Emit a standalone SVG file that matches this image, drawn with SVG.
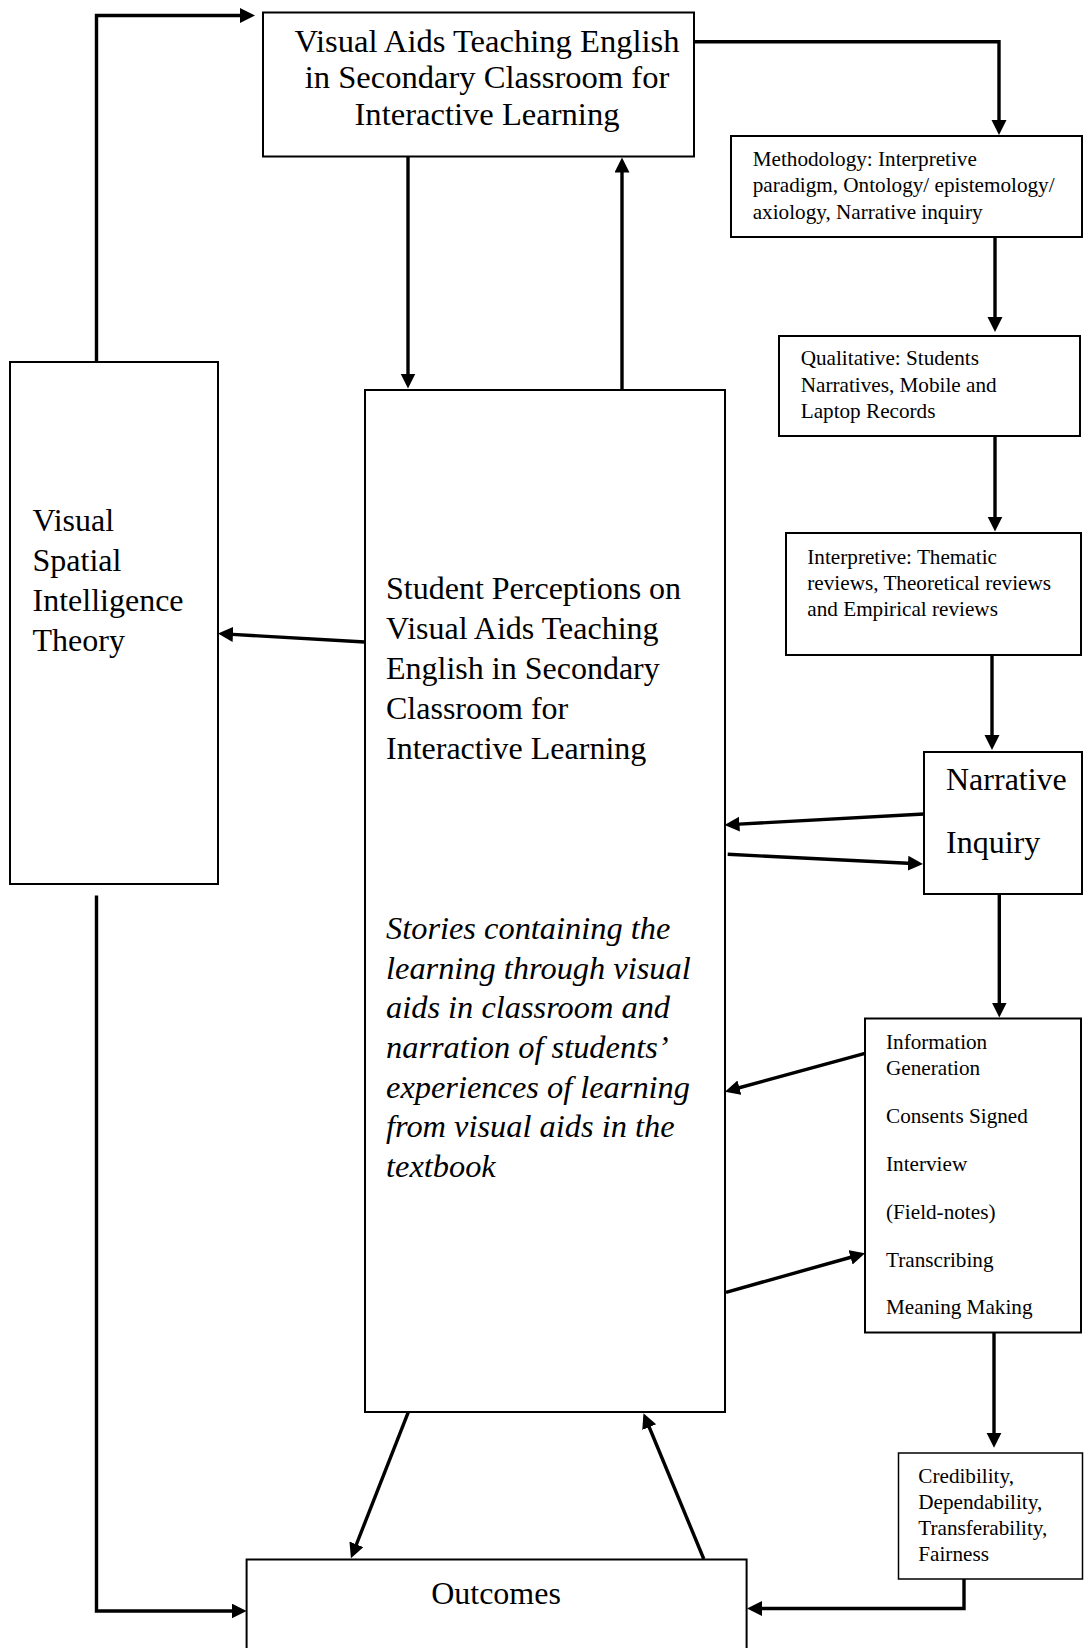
<svg xmlns="http://www.w3.org/2000/svg" width="1084" height="1648" viewBox="0 0 1084 1648">
<defs>
<marker id="ah" markerUnits="userSpaceOnUse" markerWidth="16" markerHeight="16" refX="5" refY="7.5" orient="auto">
<path d="M0,0 L15,7.5 L0,15 Z" fill="#000"/>
</marker>
<style>
.box{fill:#fff;stroke:#000;stroke-width:2}
.thin{fill:#fff;stroke:#000;stroke-width:1.5}
.c{fill:none;stroke:#000;stroke-width:3.4;marker-end:url(#ah)}
.big{font-family:"Liberation Serif","Times New Roman",serif;font-size:32px;fill:#000}
.ttl{font-size:32.6px}
.sm{font-family:"Liberation Serif","Times New Roman",serif;font-size:21.2px;fill:#000}
.it{font-style:italic;font-size:32.4px}
</style>
</defs>
<rect width="1084" height="1648" fill="#fff"/>

<g id="connectors">
<path class="c" d="M96.5,362 V15.5 H245"/>
<path class="c" d="M694,41.7 H999 V125"/>
<path class="c" d="M408,157 V378.5"/>
<path class="c" d="M622,390 V167.5"/>
<path class="c" d="M995,237 V322"/>
<path class="c" d="M995,436 V521.5"/>
<path class="c" d="M992,655 V740"/>
<path class="c" d="M924,814 L734.5,824.4"/>
<path class="c" d="M727.7,854.3 L913,863.5"/>
<path class="c" d="M999.3,894 V1007.5"/>
<path class="c" d="M865,1053.3 L734.6,1089"/>
<path class="c" d="M726,1292.3 L855.4,1256"/>
<path class="c" d="M994,1333 V1437.7"/>
<path class="c" d="M964,1579 V1608.5 H757"/>
<path class="c" d="M408.2,1412.3 L354.6,1549"/>
<path class="c" d="M703.8,1559 L647.3,1422.5"/>
<path class="c" d="M364.8,642 L228,634.1"/>
<path class="c" d="M96.5,895.5 V1611 H236.6"/>
</g>

<g id="node-top">
<rect class="box" x="263" y="12.5" width="431" height="144"/>
<text class="big ttl" text-anchor="middle" x="487" y="51.7">Visual Aids Teaching English</text>
<text class="big ttl" text-anchor="middle" x="487" y="88.3">in Secondary Classroom for</text>
<text class="big ttl" text-anchor="middle" x="487" y="125">Interactive Learning</text>
</g>

<g id="node-methodology">
<rect class="box" x="731" y="136" width="351" height="101"/>
<text class="sm" x="752.7" y="165.7">Methodology: Interpretive</text>
<text class="sm" x="752.7" y="192.3">paradigm, Ontology/ epistemology/</text>
<text class="sm" x="752.7" y="218.6">axiology, Narrative inquiry</text>
</g>

<g id="node-qualitative">
<rect class="box" x="779" y="336" width="301" height="100"/>
<text class="sm" x="800.7" y="365">Qualitative: Students</text>
<text class="sm" x="800.7" y="391.5">Narratives, Mobile and</text>
<text class="sm" x="800.7" y="418">Laptop Records</text>
</g>

<g id="node-interpretive">
<rect class="box" x="786" y="533" width="295" height="122"/>
<text class="sm" x="807.3" y="564">Interpretive: Thematic</text>
<text class="sm" x="807.3" y="590">reviews, Theoretical reviews</text>
<text class="sm" x="807.3" y="616">and Empirical reviews</text>
</g>

<g id="node-narrative">
<rect class="box" x="924" y="752" width="158" height="142"/>
<text class="big" x="946" y="790">Narrative</text>
<text class="big" x="946" y="852.7">Inquiry</text>
</g>

<g id="node-info">
<rect class="box" x="865" y="1018.5" width="216" height="314"/>
<text class="sm" x="886" y="1049.3">Information</text>
<text class="sm" x="886" y="1075">Generation</text>
<text class="sm" x="886" y="1123.3">Consents Signed</text>
<text class="sm" x="886" y="1171">Interview</text>
<text class="sm" x="886" y="1219.3">(Field-notes)</text>
<text class="sm" x="886" y="1266.7">Transcribing</text>
<text class="sm" x="886" y="1314">Meaning Making</text>
</g>

<g id="node-credibility">
<rect class="thin" x="898.5" y="1453" width="184" height="126"/>
<text class="sm" x="918.3" y="1482.7">Credibility,</text>
<text class="sm" x="918.3" y="1509.3">Dependability,</text>
<text class="sm" x="918.3" y="1535">Transferability,</text>
<text class="sm" x="918.3" y="1560.7">Fairness</text>
</g>

<g id="node-theory">
<rect class="box" x="10" y="362" width="208" height="522"/>
<text class="big" x="32.5" y="531">Visual</text>
<text class="big" x="32.5" y="571">Spatial</text>
<text class="big" x="32.5" y="611">Intelligence</text>
<text class="big" x="32.5" y="651">Theory</text>
</g>

<g id="node-perceptions">
<rect class="box" x="365" y="390" width="360" height="1022"/>
<text class="big" x="386" y="599.3">Student Perceptions on</text>
<text class="big" x="386" y="639.1">Visual Aids Teaching</text>
<text class="big" x="386" y="678.9">English in Secondary</text>
<text class="big" x="386" y="718.7">Classroom for</text>
<text class="big" x="386" y="758.5">Interactive Learning</text>
<text class="big it" x="386" y="939">Stories containing the</text>
<text class="big it" x="386" y="978.7">learning through visual</text>
<text class="big it" x="386" y="1018.4">aids in classroom and</text>
<text class="big it" x="386" y="1058">narration of students’</text>
<text class="big it" x="386" y="1097.7">experiences of learning</text>
<text class="big it" x="386" y="1137.4">from visual aids in the</text>
<text class="big it" x="386" y="1177">textbook</text>
</g>

<g id="node-outcomes">
<rect class="box" x="246.6" y="1559.5" width="500" height="100"/>
<text class="big" text-anchor="middle" x="496" y="1604">Outcomes</text>
</g>
</svg>
